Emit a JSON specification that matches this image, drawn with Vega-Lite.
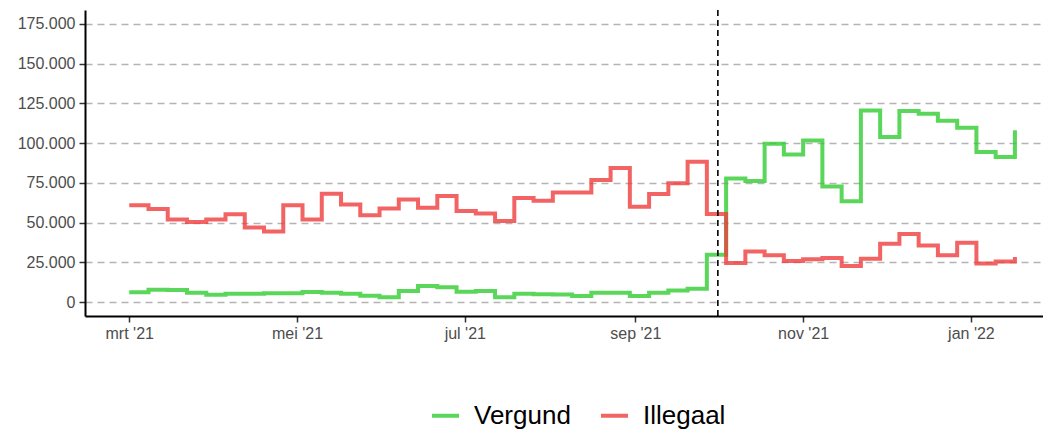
{
  "$schema": "https://vega.github.io/schema/vega-lite/v6.json",
  "width": 958,
  "height": 306,
  "autosize": {"type": "none"},
  "padding": {"left": 85, "top": 10, "right": 0, "bottom": 116},
  "background": "white",
  "config": {
    "view": {"stroke": null},
    "font": "Liberation Sans"
  },
  "layer": [
    {
      "data": {"values": [
        {"date":"2021-03-01","type":"Vergund","value":6200},{"date":"2021-03-08","type":"Vergund","value":7700},{"date":"2021-03-15","type":"Vergund","value":7600},{"date":"2021-03-22","type":"Vergund","value":5800},{"date":"2021-03-29","type":"Vergund","value":4600},{"date":"2021-04-05","type":"Vergund","value":5300},{"date":"2021-04-12","type":"Vergund","value":5300},{"date":"2021-04-19","type":"Vergund","value":5600},{"date":"2021-04-26","type":"Vergund","value":5600},{"date":"2021-05-03","type":"Vergund","value":6300},{"date":"2021-05-10","type":"Vergund","value":5800},{"date":"2021-05-17","type":"Vergund","value":5200},{"date":"2021-05-24","type":"Vergund","value":4000},{"date":"2021-05-31","type":"Vergund","value":3100},{"date":"2021-06-07","type":"Vergund","value":6900},{"date":"2021-06-14","type":"Vergund","value":10200},{"date":"2021-06-21","type":"Vergund","value":9400},{"date":"2021-06-28","type":"Vergund","value":6500},{"date":"2021-07-05","type":"Vergund","value":6900},{"date":"2021-07-12","type":"Vergund","value":3100},{"date":"2021-07-19","type":"Vergund","value":5200},{"date":"2021-07-26","type":"Vergund","value":5000},{"date":"2021-08-02","type":"Vergund","value":4800},{"date":"2021-08-09","type":"Vergund","value":3800},{"date":"2021-08-16","type":"Vergund","value":5900},{"date":"2021-08-23","type":"Vergund","value":5900},{"date":"2021-08-30","type":"Vergund","value":3800},{"date":"2021-09-06","type":"Vergund","value":5900},{"date":"2021-09-13","type":"Vergund","value":7300},{"date":"2021-09-20","type":"Vergund","value":8400},{"date":"2021-09-27","type":"Vergund","value":29800},{"date":"2021-10-04","type":"Vergund","value":77700},{"date":"2021-10-11","type":"Vergund","value":76200},{"date":"2021-10-18","type":"Vergund","value":99600},{"date":"2021-10-25","type":"Vergund","value":92900},{"date":"2021-11-01","type":"Vergund","value":101700},{"date":"2021-11-08","type":"Vergund","value":72700},{"date":"2021-11-15","type":"Vergund","value":63500},{"date":"2021-11-22","type":"Vergund","value":120600},{"date":"2021-11-29","type":"Vergund","value":103900},{"date":"2021-12-06","type":"Vergund","value":120200},{"date":"2021-12-13","type":"Vergund","value":118500},{"date":"2021-12-20","type":"Vergund","value":114100},{"date":"2021-12-27","type":"Vergund","value":109600},{"date":"2022-01-03","type":"Vergund","value":94400},{"date":"2022-01-10","type":"Vergund","value":91200},{"date":"2022-01-17","type":"Vergund","value":108100},
        {"date":"2021-03-01","type":"Illegaal","value":61000},{"date":"2021-03-08","type":"Illegaal","value":58500},{"date":"2021-03-15","type":"Illegaal","value":52000},{"date":"2021-03-22","type":"Illegaal","value":50400},{"date":"2021-03-29","type":"Illegaal","value":52000},{"date":"2021-04-05","type":"Illegaal","value":55200},{"date":"2021-04-12","type":"Illegaal","value":46900},{"date":"2021-04-19","type":"Illegaal","value":44400},{"date":"2021-04-26","type":"Illegaal","value":61000},{"date":"2021-05-03","type":"Illegaal","value":51900},{"date":"2021-05-10","type":"Illegaal","value":68100},{"date":"2021-05-17","type":"Illegaal","value":61400},{"date":"2021-05-24","type":"Illegaal","value":54600},{"date":"2021-05-31","type":"Illegaal","value":58900},{"date":"2021-06-07","type":"Illegaal","value":64600},{"date":"2021-06-14","type":"Illegaal","value":59400},{"date":"2021-06-21","type":"Illegaal","value":66700},{"date":"2021-06-28","type":"Illegaal","value":57300},{"date":"2021-07-05","type":"Illegaal","value":55800},{"date":"2021-07-12","type":"Illegaal","value":51000},{"date":"2021-07-19","type":"Illegaal","value":65500},{"date":"2021-07-26","type":"Illegaal","value":63800},{"date":"2021-08-02","type":"Illegaal","value":69000},{"date":"2021-08-09","type":"Illegaal","value":69000},{"date":"2021-08-16","type":"Illegaal","value":76800},{"date":"2021-08-23","type":"Illegaal","value":84300},{"date":"2021-08-30","type":"Illegaal","value":60000},{"date":"2021-09-06","type":"Illegaal","value":68000},{"date":"2021-09-13","type":"Illegaal","value":74700},{"date":"2021-09-20","type":"Illegaal","value":88300},{"date":"2021-09-27","type":"Illegaal","value":55400},{"date":"2021-10-04","type":"Illegaal","value":24600},{"date":"2021-10-11","type":"Illegaal","value":31900},{"date":"2021-10-18","type":"Illegaal","value":29400},{"date":"2021-10-25","type":"Illegaal","value":25800},{"date":"2021-11-01","type":"Illegaal","value":26900},{"date":"2021-11-08","type":"Illegaal","value":27700},{"date":"2021-11-15","type":"Illegaal","value":22700},{"date":"2021-11-22","type":"Illegaal","value":27300},{"date":"2021-11-29","type":"Illegaal","value":36700},{"date":"2021-12-06","type":"Illegaal","value":42900},{"date":"2021-12-13","type":"Illegaal","value":35600},{"date":"2021-12-20","type":"Illegaal","value":29400},{"date":"2021-12-27","type":"Illegaal","value":37300},{"date":"2022-01-03","type":"Illegaal","value":24200},{"date":"2022-01-10","type":"Illegaal","value":25600},{"date":"2022-01-17","type":"Illegaal","value":28300}
      ]},
      "mark": {"type": "line", "interpolate": "step-after", "strokeWidth": 4, "opacity": 0.8},
      "encoding": {
        "x": {
          "field": "date", "type": "temporal", "title": null,
          "scale": {"type": "utc", "domain": [{"year":2021,"month":2,"date":12,"hours":22,"utc":true},{"year":2022,"month":1,"date":27,"hours":5,"utc":true}]},
          "axis": {
            "values": [{"year":2021,"month":3,"date":1,"utc":true},{"year":2021,"month":5,"date":1,"utc":true},{"year":2021,"month":7,"date":1,"utc":true},{"year":2021,"month":9,"date":1,"utc":true},{"year":2021,"month":11,"date":1,"utc":true},{"year":2022,"month":1,"date":1,"utc":true}],
            "labelExpr": "['jan','feb','mrt','apr','mei','jun','jul','aug','sep','okt','nov','dec'][utcmonth(datum.value)] + \" '\" + utcFormat(datum.value, '%y')",
            "grid": false,
            "domainColor": "#000000", "domainWidth": 2,
            "tickColor": "#333333", "tickWidth": 1.5, "tickSize": 6,
            "labelColor": "#4d4d4d", "labelFontSize": 16, "labelPadding": 3,
            "labelFont": "Liberation Sans"
          }
        },
        "y": {
          "field": "value", "type": "quantitative", "title": null,
          "scale": {"domain": [-8750, 183750], "nice": false, "zero": false},
          "axis": {
            "values": [0, 25000, 50000, 75000, 100000, 125000, 150000, 175000],
            "labelExpr": "replace(format(datum.value, ','), regexp(',', 'g'), '.')",
            "grid": true, "gridDash": [7, 5], "gridColor": "#b3b3b3", "gridWidth": 1.3,
            "domainColor": "#000000", "domainWidth": 2,
            "tickColor": "#333333", "tickWidth": 1.5, "tickSize": 6,
            "labelColor": "#4d4d4d", "labelFontSize": 16, "labelPadding": 4,
            "labelFont": "Liberation Sans"
          }
        },
        "color": {
          "field": "type", "type": "nominal",
          "scale": {"domain": ["Vergund", "Illegaal"], "range": ["#31cc31", "#ef3d3d"]},
          "legend": {
            "title": null, "orient": "none", "direction": "horizontal",
            "legendX": 345, "legendY": 390,
            "symbolType": "stroke", "symbolSize": 729, "symbolStrokeWidth": 4, "symbolOpacity": 0.8,
            "labelFontSize": 26, "labelColor": "#000000", "labelFont": "Liberation Sans",
            "labelOffset": 13, "columnPadding": 22
          }
        }
      }
    },
    {
      "data": {"values": [{"date": "2021-10-01"}]},
      "mark": {"type": "rule", "color": "#000000", "strokeWidth": 1.6, "strokeDash": [6, 4]},
      "encoding": {
        "x": {"field": "date", "type": "temporal"}
      }
    }
  ]
}
